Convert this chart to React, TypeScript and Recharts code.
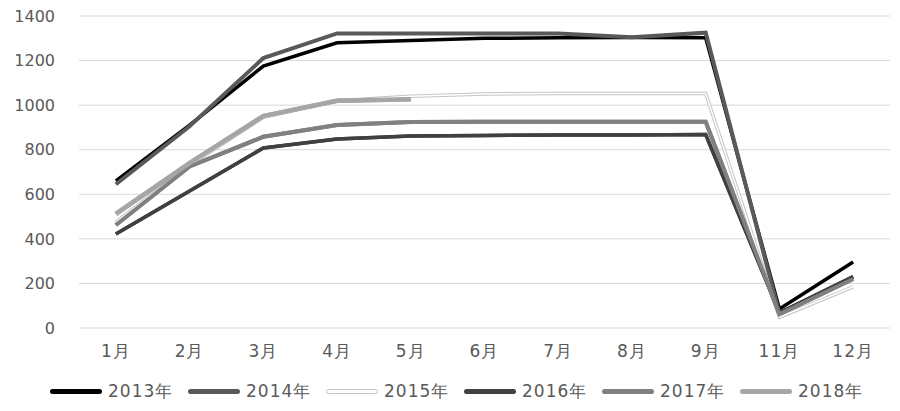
import React from "react";
import { LineChart, Line, XAxis, YAxis, CartesianGrid } from "recharts";

// months shown on the axis (no 10月 in the source)
const months = ["1月", "2月", "3月", "4月", "5月", "6月", "7月", "8月", "9月", "11月", "12月"];

const y2013 = [660, 910, 1175, 1280, 1290, 1300, 1302, 1303, 1302, 85, 296];
const y2014 = [645, 905, 1211, 1322, 1322, 1322, 1322, 1305, 1325, 65, 230];
const y2015 = [475, 730, 945, 1020, 1040, 1050, 1052, 1052, 1052, 48, 185];
const y2016 = [422, 615, 808, 848, 861, 864, 866, 866, 868, 68, 230];
const y2017 = [462, 725, 858, 911, 924, 925, 925, 925, 925, 62, 220];
const y2018 = [512, 740, 951, 1020, 1027, null, null, null, null, null, null];

const yTicks = [0, 200, 400, 600, 800, 1000, 1200, 1400];

const series = [
  { key: "2013年", values: y2013, color: "#000000", width: 3.5 },
  { key: "2014年", values: y2014, color: "#595959", width: 4 },
  { key: "2015年", values: y2015, color: "#c4c4c4", width: 3.5, inner: "#ffffff" },
  { key: "2016年", values: y2016, color: "#404040", width: 3.5 },
  { key: "2017年", values: y2017, color: "#808080", width: 4 },
  { key: "2018年", values: y2018, color: "#a6a6a6", width: 4.5 },
];

const data = months.map((m, i) => {
  const row: Record<string, string | number | null> = { month: m };
  series.forEach((s) => {
    row[s.key] = s.values[i];
  });
  return row;
});

const font = '"DejaVu Sans", sans-serif';

export default function App() {
  // the 2015 line is a hollow (white core) line, so the later years get redrawn over its core
  const overCore = series.slice(3);
  return (
    <div style={{ position: "relative", width: 900, height: 411, background: "#fff" }}>
      <style>{`body{margin:0}`}</style>
      <LineChart
        width={900}
        height={411}
        data={data}
        margin={{ top: 16, right: 10, left: 0, bottom: 53 }}
      >
        <CartesianGrid vertical={false} stroke="#d9d9d9" />
        <XAxis
          dataKey="month"
          scale="band"
          axisLine={false}
          tickLine={false}
          height={30}
          tickMargin={11}
          tick={{ fill: "#595959", fontSize: 17, fontFamily: font, letterSpacing: 1 }}
        />
        <YAxis
          domain={[0, 1400]}
          ticks={yTicks}
          width={79}
          axisLine={false}
          tickLine={false}
          tickMargin={18}
          tick={{ fill: "#595959", fontSize: 16, fontFamily: font }}
        />
        {series.map((s) => (
          <Line
            key={s.key}
            dataKey={s.key}
            stroke={s.color}
            strokeWidth={s.width}
            dot={false}
            type="linear"
            isAnimationActive={false}
          />
        ))}
        <Line
          dataKey="2015年"
          stroke="#ffffff"
          strokeWidth={1.5}
          dot={false}
          type="linear"
          legendType="none"
          isAnimationActive={false}
        />
        {overCore.map((s) => (
          <Line
            key={s.key + "-top"}
            dataKey={s.key}
            stroke={s.color}
            strokeWidth={s.width}
            dot={false}
            type="linear"
            legendType="none"
            isAnimationActive={false}
          />
        ))}
      </LineChart>
      {/* legend row under the axis */}
      <div
        style={{
          position: "absolute",
          left: 50,
          top: 380,
          display: "flex",
          alignItems: "center",
          fontFamily: font,
          fontSize: 17,
          color: "#595959",
          letterSpacing: 1,
        }}
      >
        {series.map((s) => (
          <div key={s.key} style={{ display: "flex", alignItems: "center", width: 138 }}>
            <div
              style={{
                width: 52,
                height: 5,
                borderRadius: 3,
                background: s.inner ? s.inner : s.color,
                border: s.inner ? `1px solid ${s.color}` : "none",
                boxSizing: "border-box",
                marginRight: 6,
              }}
            />
            <span>{s.key}</span>
          </div>
        ))}
      </div>
    </div>
  );
}
